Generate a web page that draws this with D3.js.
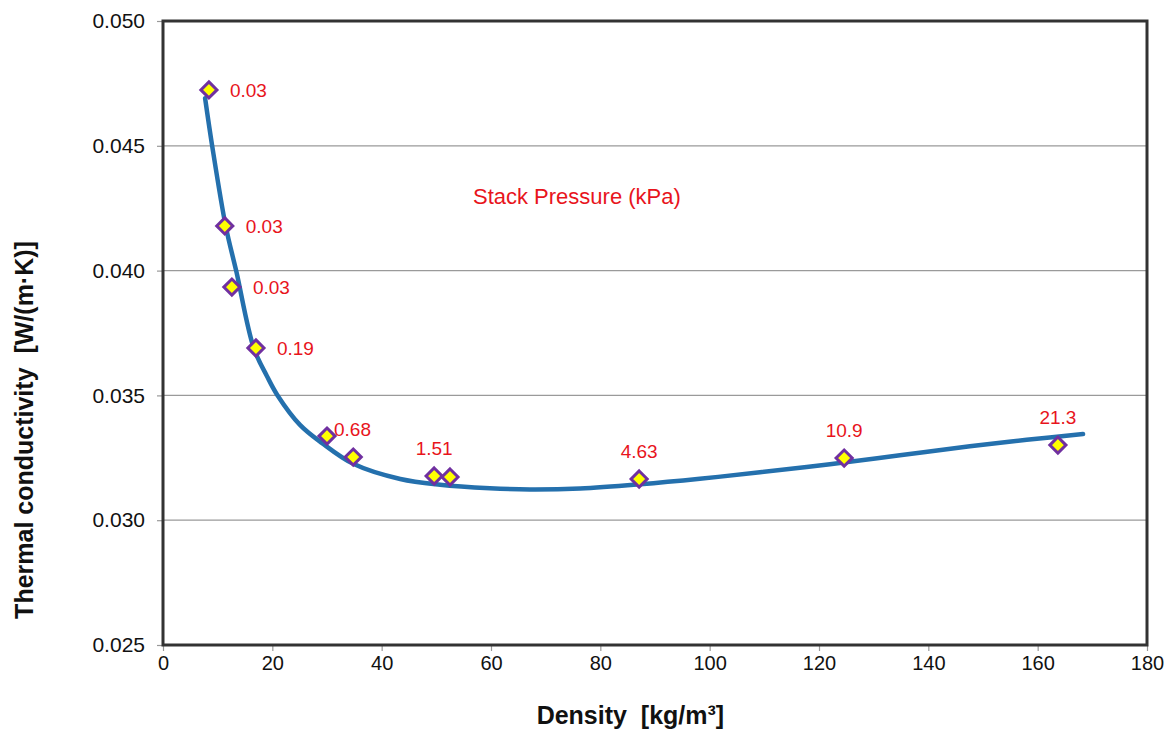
<!DOCTYPE html>
<html>
<head>
<meta charset="utf-8">
<script src="https://d3js.org/d3.v7.min.js"></script>
<style>
  body { margin: 0; background: #fff; }
  text { font-family: "Liberation Sans", Arial, sans-serif; white-space: pre; }
</style>
</head>
<body>
<script>
// measured samples
const density = [8.4, 11.3, 12.6, 17.0, 30.0, 34.8, 49.6, 52.5, 87.1, 124.6, 163.7];
const conductivity = [0.04724, 0.04179, 0.03934, 0.03690, 0.03337, 0.03253, 0.03177, 0.03173, 0.03165, 0.03249, 0.03301];
const pressure = ["0.03", "0.03", "0.03", "0.19", "0.68", "", "1.51", "", "4.63", "10.9", "21.3"];
const labelSide = ["right", "right", "right", "right", "upright", "", "up", "", "up", "up", "up"];

// trend line
const fitX = [7.7, 9.0, 11.5, 13.4, 16.6, 19.0, 20.9, 25.1, 29.1, 34.8, 43.4, 50.7, 59.8, 67.1, 76.3, 87.3, 98.2, 109.2, 122.0, 134.8, 147.6, 158.0, 168.3];
const fitY = [0.04691, 0.04499, 0.04175, 0.03998, 0.03690, 0.03578, 0.03502, 0.03381, 0.03309, 0.03226, 0.03165, 0.03142, 0.03128, 0.03123, 0.03127, 0.03144, 0.03166, 0.03192, 0.03224, 0.03260, 0.03296, 0.03322, 0.03345];

const xTicks = [0, 20, 40, 60, 80, 100, 120, 140, 160, 180];
const yTicks = [0.025, 0.030, 0.035, 0.040, 0.045, 0.050];

const W = 1171, H = 731;
const margin = {top: 21, right: 24, bottom: 86, left: 163};
const width = W - margin.left - margin.right;
const height = H - margin.top - margin.bottom;

const svg = d3.select("body").append("svg")
    .attr("width", W)
    .attr("height", H);
const g = svg.append("g")
    .attr("transform", "translate(" + margin.left + "," + margin.top + ")");

const x = d3.scaleLinear().domain([0, 180]).range([0, width]);
const y = d3.scaleLinear().domain([0.025, 0.050]).range([height, 0]);

// gridlines
g.append("g")
  .selectAll("line")
  .data(yTicks.slice(1, -1))
  .join("line")
    .attr("x1", 0).attr("x2", width)
    .attr("y1", d => y(d)).attr("y2", d => y(d))
    .attr("stroke", "#9a9a9a")
    .attr("stroke-width", 1.2);

// axes
const xAxis = g.append("g")
    .attr("transform", "translate(0," + height + ")")
    .call(d3.axisBottom(x).tickValues(xTicks).tickSize(6).tickPadding(5).tickFormat(d3.format("d")));
const yAxis = g.append("g")
    .call(d3.axisLeft(y).tickValues(yTicks).tickSize(6).tickPadding(12).tickFormat(d3.format(".3f")));
[xAxis, yAxis].forEach((a, i) => {
  a.select(".domain").remove();
  a.selectAll(".tick line").attr("stroke", "#999").attr("stroke-width", 1.2);
  a.selectAll(".tick text")
    .attr("font-family", "'Liberation Sans', Arial, sans-serif")
    .attr("font-size", i === 0 ? 20 : 21)
    .attr("fill", "#111");
});

// frame
g.append("rect")
    .attr("x", 0).attr("y", 0)
    .attr("width", width).attr("height", height)
    .attr("fill", "none")
    .attr("stroke", "#333")
    .attr("stroke-width", 3);

// fitted curve
g.append("path")
    .datum(fitX.map((d, i) => [d, fitY[i]]))
    .attr("fill", "none")
    .attr("stroke", "#2470ad")
    .attr("stroke-width", 4.5)
    .attr("stroke-linecap", "round")
    .attr("d", d3.line().x(d => x(d[0])).y(d => y(d[1])).curve(d3.curveCatmullRom.alpha(0.5)));

// markers
const pts = density.map((d, i) => ({x: d, y: conductivity[i], lab: pressure[i], side: labelSide[i]}));
g.selectAll(".pt")
  .data(pts)
  .join("path")
    .attr("class", "pt")
    .attr("transform", d => "translate(" + x(d.x) + "," + y(d.y) + ")")
    .attr("d", d3.symbol().type(d3.symbolDiamond2).size(165))
    .attr("fill", "#ffff00")
    .attr("stroke", "#7030a0")
    .attr("stroke-width", 3);

// pressure labels
g.selectAll(".lab")
  .data(pts.filter(d => d.lab !== ""))
  .join("text")
    .attr("class", "lab")
    .text(d => d.lab)
    .attr("x", d => x(d.x) + (d.side === "right" ? 21 : d.side === "upright" ? 7 : 0))
    .attr("y", d => y(d.y) + (d.side === "right" ? 7 : d.side === "upright" ? 0 : -21))
    .attr("text-anchor", d => d.side === "up" ? "middle" : "start")
    .attr("font-size", 19)
    .attr("fill", "#e8141c");

g.append("text")
    .text("Stack Pressure (kPa)")
    .attr("x", x(56.7))
    .attr("y", 183)
    .attr("font-family", "'Open Sans', sans-serif")
    .attr("font-size", 22)
    .attr("fill", "#e8141c");

// axis titles
svg.append("text")
    .text("Density  [kg/m\u00b3]")
    .attr("x", margin.left + x(85.5))
    .attr("y", 724)
    .attr("text-anchor", "middle")
    .attr("font-weight", "bold")
    .attr("font-size", 25)
    .attr("fill", "#111");
svg.append("text")
    .text("Thermal conductivity  [W/(m\u00b7K)]")
    .attr("transform", "translate(33,430) rotate(-90)")
    .attr("text-anchor", "middle")
    .attr("font-weight", "bold")
    .attr("font-size", 25)
    .attr("fill", "#111");
</script>
</body>
</html>
